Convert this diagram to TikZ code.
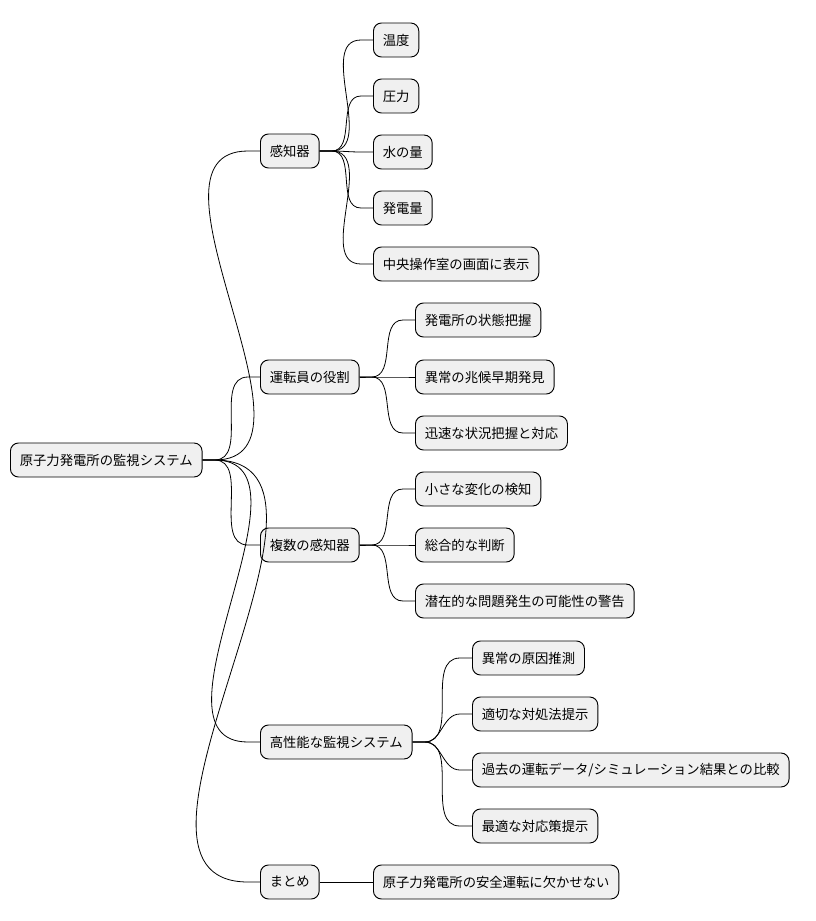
\documentclass[tikz,border=0pt]{standalone}
\usepackage{fontspec}
\setmainfont{Noto Sans CJK JP}
\usetikzlibrary{positioning}
\tikzset{%
  every topic/.style={
    draw, rounded corners=6pt, fill=black!6, line width=0.7pt,
    anchor=west, minimum height=25.5pt, inner xsep=7pt,
    font=\fontsize{10pt}{12pt}\selectfont
  },
  branch/.style={line width=0.6pt},
}
\newcommand{\branchto}[2]{\draw [branch] (#1.east) -- ++(9pt,0) to[out=0,in=180] ([xshift=-9pt]#2.west) -- (#2.west);}

\begin{document}
\begin{tikzpicture}[x=0.75pt, y=-0.75pt]
\useasboundingbox (0,0) rectangle (815,921);

% Root
\node [every topic] (root) at (10,460) {原子力発電所の監視システム};

% First level
\foreach \m/\l/\y in {sens/感知器/151, oper/運転員の役割/377, multi/複数の感知器/545, high/高性能な監視システム/742, summ/まとめ/882}
  \node [every topic] (\m) at (260,\y) {\l};

% Children of sens
\foreach \l/\y [count=\i] in {温度/40, 圧力/96, 水の量/152, 発電量/208, 中央操作室の画面に表示/264}
  \node [every topic] (sens-\i) at (373,\y) {\l};

% Children of oper
\foreach \l/\y [count=\i] in {発電所の状態把握/320, 異常の兆候早期発見/377, 迅速な状況把握と対応/433}
  \node [every topic] (oper-\i) at (415,\y) {\l};

% Children of multi
\foreach \l/\y [count=\i] in {小さな変化の検知/489, 総合的な判断/545, 潜在的な問題発生の可能性の警告/601}
  \node [every topic] (multi-\i) at (415,\y) {\l};

% Children of high
\foreach \l/\y [count=\i] in {異常の原因推測/658, 適切な対処法提示/714, 最適な対応策提示/826}
  \node [every topic] (high-\i) at (472,\y) {\l};
\node [every topic] (high-4) at (472,770) {過去の運転データ/シミュレーション結果との比較};

% Child of summ
\node [every topic] (summ-1) at (373,882) {原子力発電所の安全運転に欠かせない};

% Lines from root
\foreach \m in {sens, oper, multi, high, summ}
  {\branchto{root}{\m}}

% Lines to leaves
\foreach \i in {1,...,5} {\branchto{sens}{sens-\i}}
\foreach \i in {1,...,3} {\branchto{oper}{oper-\i}}
\foreach \i in {1,...,3} {\branchto{multi}{multi-\i}}
\foreach \i in {1,...,4} {\branchto{high}{high-\i}}
\draw [branch] (summ) -- (summ-1);

\end{tikzpicture}
\end{document}
